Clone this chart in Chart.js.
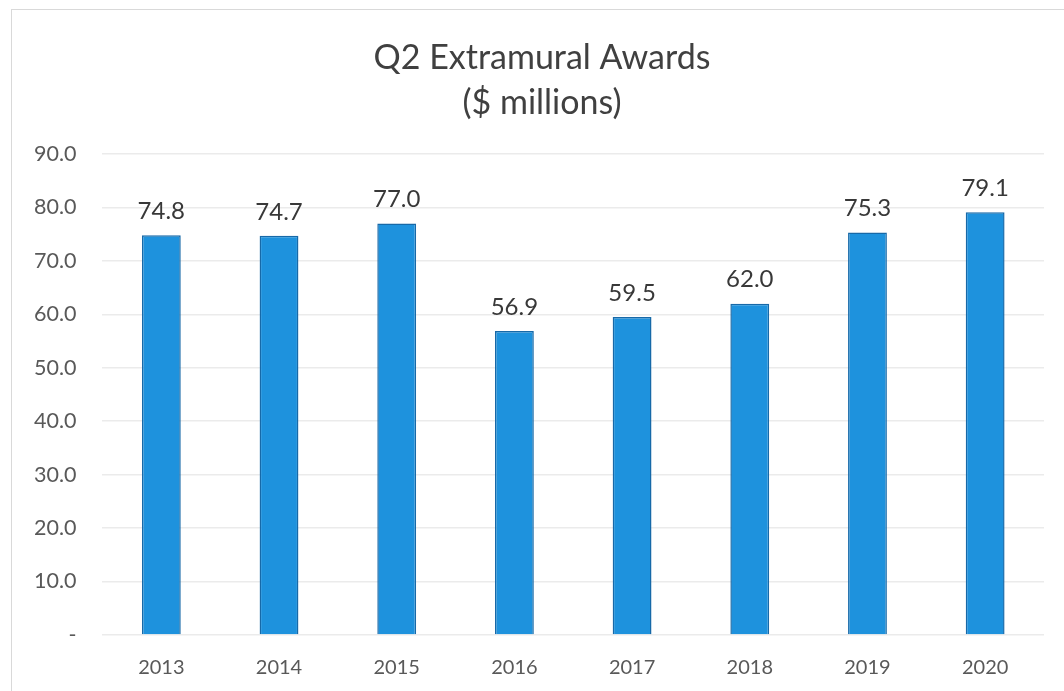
<!DOCTYPE html>
<html>
<head>
<meta charset="utf-8">
<script src="https://cdn.jsdelivr.net/npm/chart.js@4"></script>
<style>
  html, body { margin: 0; padding: 0; background: #fff; }
  #frame { position: absolute; left: 11px; top: 9px; width: 1060px; height: 700px; border: 1px solid #d9d9d9; box-sizing: border-box; }
  #wrap { position: absolute; left: 0; top: 0; width: 1064px; height: 691px; }
</style>
</head>
<body>
<div id="frame"></div>
<div id="wrap"><canvas id="myChart" width="1064" height="691"></canvas></div>
<script>
// chart data
const years = ['2013', '2014', '2015', '2016', '2017', '2018', '2019', '2020'];
const awards = [74.8, 74.7, 77.0, 56.9, 59.5, 62.0, 75.3, 79.1];
const yTicks = [0, 10, 20, 30, 40, 50, 60, 70, 80, 90];
const titleLines = ['Q2 Extramural Awards', '($ millions)'];

// title is a bit right of the canvas centre in the original, so draw it here
const titleText = {
    id: 'titleText',
    afterDraw(chart) {
        const c = chart.ctx;
        c.save();
        c.font = '34px Lato';
        c.fillStyle = '#404040';
        c.textAlign = 'center';
        c.textBaseline = 'middle';
        c.fillText(titleLines[0], 542, 58);
        c.fillText(titleLines[1], 542, 103);
        c.restore();
    }
};

// draws the value over each bar
const valueLabels = {
    id: 'valueLabels',
    afterDatasetsDraw(chart) {
        const c = chart.ctx;
        const meta = chart.getDatasetMeta(0);
        c.save();
        c.font = '24px Lato';
        c.fillStyle = '#383838';
        c.textAlign = 'center';
        c.textBaseline = 'middle';
        meta.data.forEach((bar, i) => {
            c.fillText(awards[i].toFixed(1), bar.x, bar.y - 24);
        });
        c.restore();
    }
};

const ctx = document.getElementById('myChart').getContext('2d');
const myChart = new Chart(ctx, {
    type: 'bar',
    data: {
        labels: years,
        datasets: [{
            data: awards,
            backgroundColor: '#1e92dd',
            borderColor: '#1769a8',
            borderWidth: 1.5,
            categoryPercentage: 1.0,
            barPercentage: 0.33
        }]
    },
    options: {
        responsive: false,
        animation: false,
        layout: { padding: { left: 8, right: 20, top: 154, bottom: -2 } },
        plugins: {
            legend: { display: false },
            tooltip: { enabled: false },
            title: { display: false }
        },
        scales: {
            x: {
                grid: { display: false },
                border: { display: false },
                ticks: { color: '#595959', font: { family: 'Lato', size: 20 }, padding: 13 }
            },
            y: {
                min: 0,
                max: 90,
                afterBuildTicks(axis) { axis.ticks = yTicks.map(v => ({ value: v })); },
                grid: { color: '#ebebeb', lineWidth: 1.5, drawTicks: false },
                border: { display: false },
                ticks: {
                    color: '#595959',
                    font: { family: 'Lato', size: 21.5 },
                    padding: 26,
                    callback: v => v === 0 ? '-' : v.toFixed(1)
                }
            }
        }
    },
    plugins: [valueLabels, titleText]
});
</script>
</body>
</html>
